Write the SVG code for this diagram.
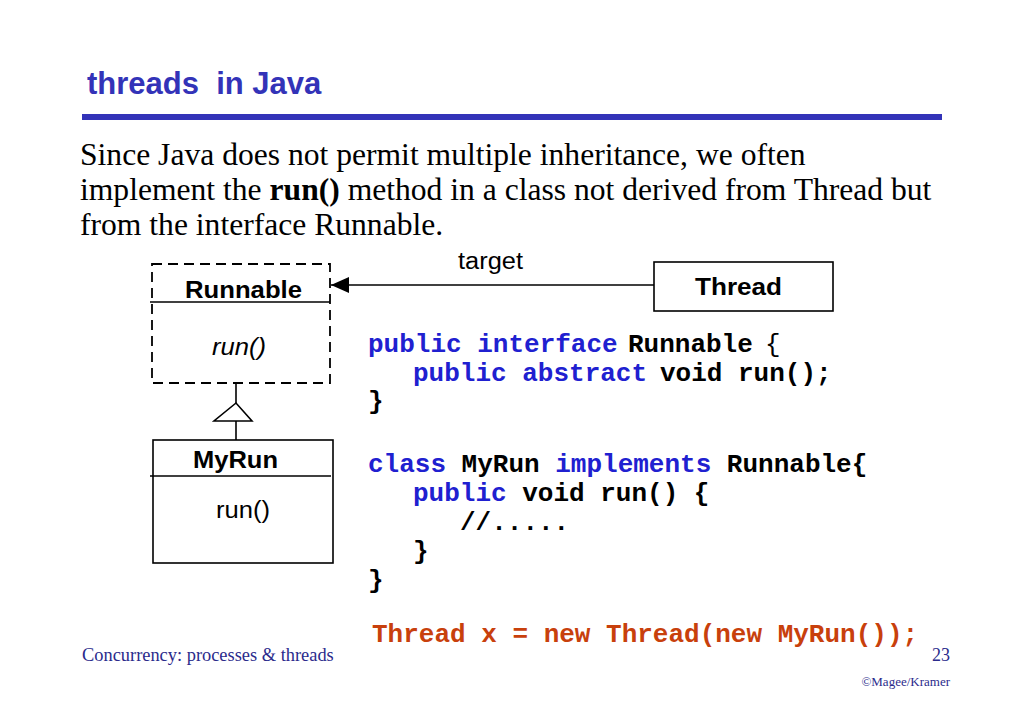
<svg xmlns="http://www.w3.org/2000/svg" width="1023" height="708" viewBox="0 0 1023 708">
<style>
.title{font-family:"Liberation Sans",Arial,sans-serif;font-weight:bold;font-size:31px;fill:#3333b8}
.body{font-family:"Liberation Serif","Times New Roman",serif;font-size:31.6px;fill:#000}
.uml{font-family:"Liberation Sans",Arial,sans-serif;font-size:23px;fill:#000}
.b{font-weight:bold}
.code{font-family:"Liberation Mono","Courier New",monospace;font-weight:bold;font-size:26px;fill:#000}
.kw{fill:#2020d0}
.red{fill:#c8400c}
.foot{font-family:"Liberation Serif","Times New Roman",serif;fill:#2b2b8c}
.box{fill:#fff;stroke:#000;stroke-width:1.6}
.line{stroke:#000;stroke-width:1.6;fill:none}
</style>
<defs>
<marker id="arrow" markerWidth="18" markerHeight="16" refX="18" refY="8" orient="auto" markerUnits="userSpaceOnUse">
<path d="M0,0 L18,8 L0,16 Z" fill="#000"/>
</marker>
</defs>
<rect width="1023" height="708" fill="#fff"/>
<text class="title" x="87" y="94" xml:space="preserve">threads  in Java</text>
<rect x="82" y="114" width="860" height="6" fill="#3333b8"/>
<text class="body" x="80" y="165">Since Java does not permit multiple inheritance, we often</text>
<text class="body" x="80" y="200">implement the <tspan font-weight="bold">run()</tspan> method in a class not derived from Thread but</text>
<text class="body" x="80" y="235">from the interface Runnable.</text>

<g id="connectors">
<line class="line" x1="654" y1="285" x2="331" y2="285" marker-end="url(#arrow)"/>
<text class="uml" x="458" y="269" textLength="65" lengthAdjust="spacingAndGlyphs">target</text>
<line class="line" x1="236" y1="383" x2="236" y2="403"/>
<polygon points="236,403 214,421 252,421" fill="#fff" stroke="#000" stroke-width="1.6"/>
<line class="line" x1="236" y1="421" x2="236" y2="440"/>
</g>

<g id="runnable">
<rect x="152" y="264" width="178" height="119" fill="#fff" stroke="#000" stroke-width="1.8" stroke-dasharray="10,6"/>
<line class="line" x1="150" y1="302" x2="330" y2="302"/>
<text class="uml b" x="185" y="298" textLength="117" lengthAdjust="spacingAndGlyphs">Runnable</text>
<text class="uml" x="212" y="355" font-style="italic" textLength="54" lengthAdjust="spacingAndGlyphs">run()</text>
</g>

<g id="thread">
<rect class="box" x="654" y="262" width="179" height="49"/>
<text class="uml b" x="695" y="295" textLength="87" lengthAdjust="spacingAndGlyphs">Thread</text>
</g>

<g id="myrun">
<rect class="box" x="153" y="440" width="180" height="123"/>
<line class="line" x1="150" y1="476" x2="331" y2="476"/>
<text class="uml b" x="193" y="468" textLength="85" lengthAdjust="spacingAndGlyphs">MyRun</text>
<text class="uml" x="216" y="518" textLength="54" lengthAdjust="spacingAndGlyphs">run()</text>
</g>

<g id="code">
<text class="code" y="352"><tspan class="kw" x="368">public interface</tspan><tspan x="628">Runnable</tspan><tspan x="765" font-weight="normal">{</tspan></text>
<text class="code" y="381"><tspan class="kw" x="413">public abstract</tspan><tspan x="660">void run();</tspan></text>
<text class="code" x="368" y="409">}</text>
<text class="code" x="368" y="472"><tspan class="kw">class</tspan> MyRun <tspan class="kw">implements</tspan> Runnable{</text>
<text class="code" x="413" y="501"><tspan class="kw">public</tspan> void run() {</text>
<text class="code" x="460" y="530">//.....</text>
<text class="code" x="413" y="559">}</text>
<text class="code" x="368" y="588">}</text>
<text class="code red" x="372" y="642">Thread x = new Thread(new MyRun());</text>
</g>

<text class="foot" x="82" y="661" font-size="18.4">Concurrency: processes &amp; threads</text>
<text class="foot" x="950" y="661" font-size="18" text-anchor="end">23</text>
<text class="foot" x="950" y="686" font-size="13" text-anchor="end">©Magee/Kramer</text>
</svg>
